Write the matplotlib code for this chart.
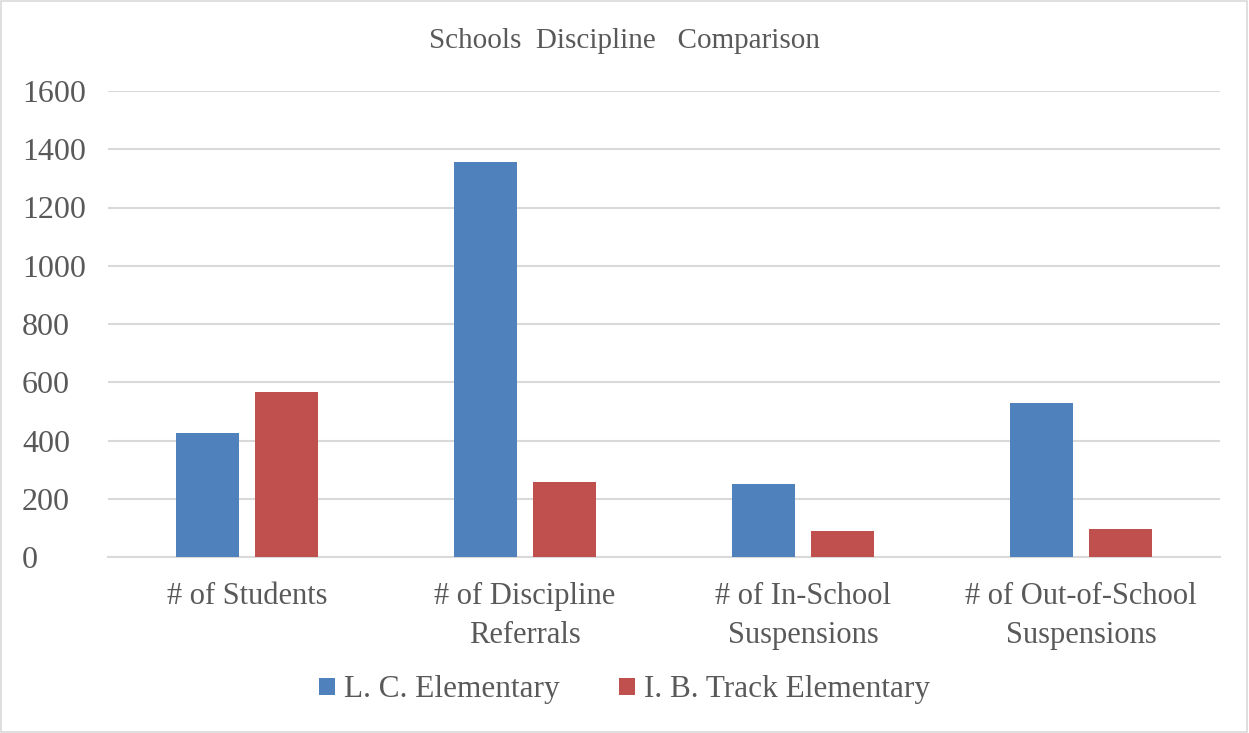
import numpy as np
import matplotlib.pyplot as plt
from matplotlib.patches import Rectangle

# Data
categories = ['# of Students', '# of Discipline\nReferrals',
              '# of In-School\nSuspensions', '# of Out-of-School\nSuspensions']
lc_values = [427, 1356, 250, 530]
ib_values = [566, 258, 90, 97]
series_names = ['L. C. Elementary', 'I. B. Track Elementary']

blue = '#4F81BD'
red = '#C0504D'
text_gray = '#595959'

plt.rcParams['font.family'] = ['Liberation Serif', 'DejaVu Serif']

fig = plt.figure(figsize=(12.49, 7.33), dpi=100)
ax = fig.add_axes([108 / 1249, 1 - 557 / 733, (1220 - 108) / 1249, (557 - 91) / 733])

x = np.arange(len(categories))
w = 0.227
ax.bar(x - 0.141, lc_values, w, color=blue, label=series_names[0], zorder=3)
ax.bar(x + 0.141, ib_values, w, color=red, label=series_names[1], zorder=3)

ax.set_xlim(-0.5, len(categories) - 0.5)
ax.set_ylim(0, 1600)
ax.set_yticks(np.arange(0, 1601, 200))
ax.yaxis.grid(True, color='#D9D9D9', linewidth=1.5, zorder=0)
ax.set_axisbelow(True)
for s in ['top', 'right', 'left']:
    ax.spines[s].set_visible(False)
ax.spines['bottom'].set_color('#D9D9D9')
ax.spines['bottom'].set_linewidth(1.5)
ax.tick_params(axis='both', length=0, colors=text_gray)
ax.tick_params(axis='y', labelsize=23, pad=62)
ax.tick_params(axis='x', labelsize=22, pad=18)
for lab in ax.get_yticklabels():
    lab.set_horizontalalignment('left')
ax.set_xticks(x)
ax.set_xticklabels(categories, linespacing=1.45)

fig.text(0.5, 1 - 41 / 733, 'Schools  Discipline   Comparison', ha='center', va='center',
         fontsize=21, color=text_gray)

leg = fig.legend(loc='center', bbox_to_anchor=(0.5, 1 - 690 / 733), ncol=2, frameon=False,
                 fontsize=22.5, handlelength=0.5, handleheight=0.5, handletextpad=0.3,
                 columnspacing=1.9)
for t in leg.get_texts():
    t.set_color(text_gray)

fig.patches.append(Rectangle((0.001, 0.001), 0.997, 0.997, transform=fig.transFigure,
                             fill=False, edgecolor='#D9D9D9', linewidth=1.2))

plt.savefig('out.png', dpi=100)
plt.close()
